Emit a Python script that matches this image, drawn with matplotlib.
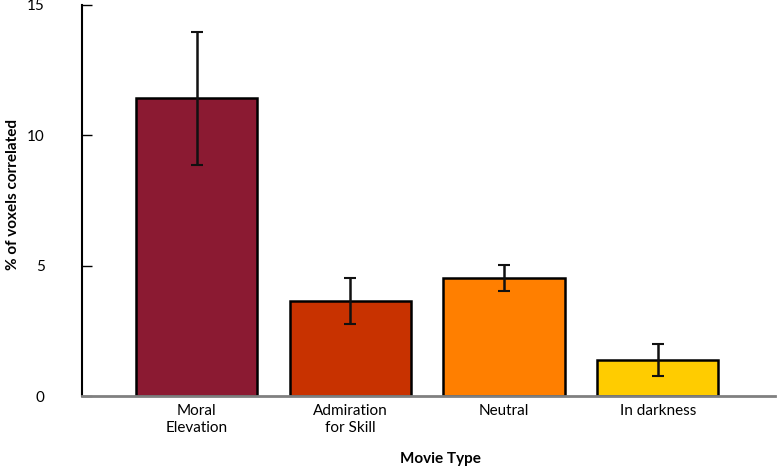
import matplotlib.pyplot as plt
import numpy as np

plt.rcParams['font.family'] = ['Lato', 'DejaVu Sans']

# data
categories = ['Moral\nElevation', 'Admiration\nfor Skill', 'Neutral', 'In darkness']
values = [11.42, 3.65, 4.54, 1.38]
errors = [2.55, 0.88, 0.5, 0.6]
colors = ['#8b1a32', '#c83200', '#ff7f00', '#ffcc00']

fig = plt.figure(figsize=(7.8, 4.66), dpi=100)
ax = fig.add_axes([82/780, 70/466, (775-82)/780, (396-5)/466])

x = np.arange(len(values))
ax.bar(x, values, 0.79, color=colors, edgecolor='black', linewidth=1.8, zorder=2)
ax.errorbar(x, values, yerr=errors, fmt='none', ecolor='#111111', elinewidth=1.8,
            capsize=4, capthick=1.5, zorder=3)

ax.set_xlim(-0.747, 3.763)
ax.set_ylim(0, 15)
ax.set_yticks([0, 5, 10, 15])
ax.tick_params(axis='y', direction='in', length=7, width=1, pad=27, labelsize=11)
ax.set_xticks(x)
ax.set_xticklabels(categories, fontsize=11)
ax.tick_params(axis='x', length=0, pad=6)

for s in ['top', 'right']:
    ax.spines[s].set_visible(False)
ax.spines['left'].set_linewidth(1.5)
ax.spines['left'].set_color('black')
ax.spines['bottom'].set_linewidth(2)
ax.spines['bottom'].set_color('#808080')

ax.set_xlabel('Movie Type', fontsize=11, fontweight='bold')
ax.set_ylabel('% of voxels correlated', fontsize=11, fontweight='bold', va='center')
ax.xaxis.set_label_coords((440-82)/693, (396-452)/391)
ax.yaxis.set_label_coords((13-82)/693, (396-194)/391)

fig.savefig('out.png', dpi=100)
